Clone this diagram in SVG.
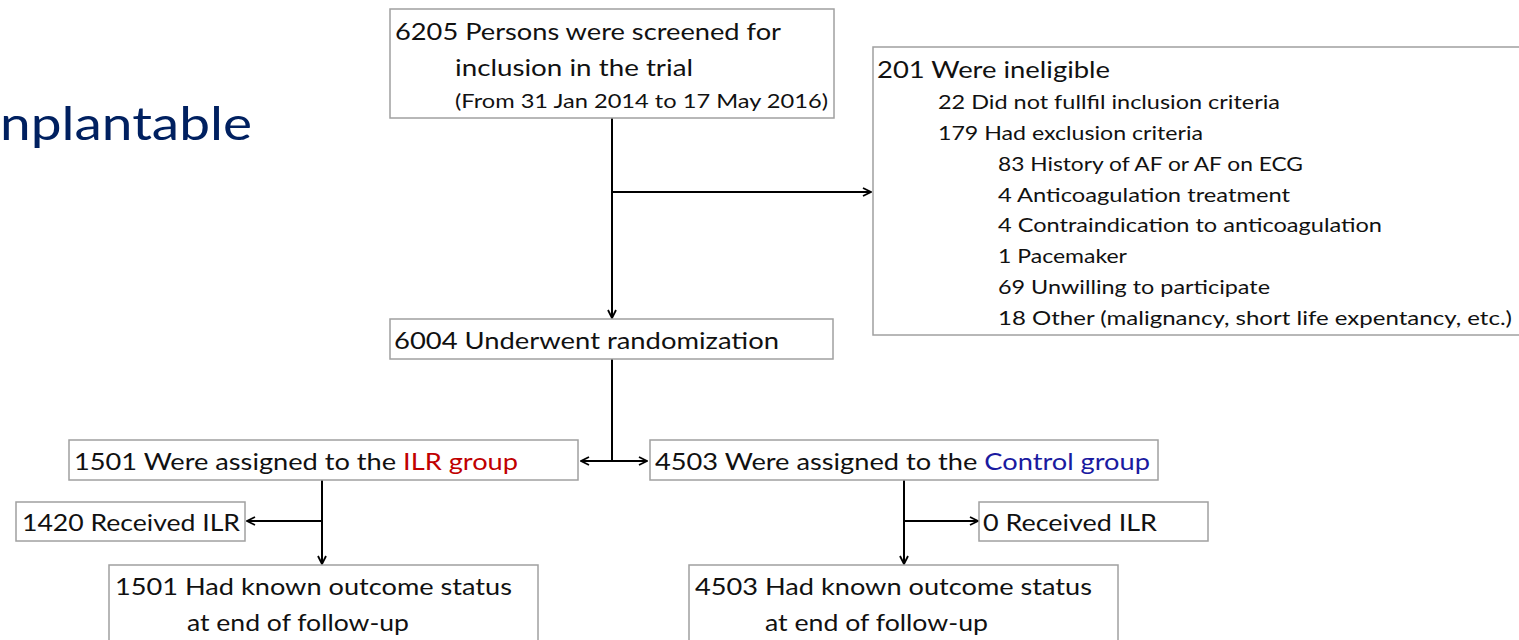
<svg xmlns="http://www.w3.org/2000/svg" width="1519" height="640" viewBox="0 0 1519 640">
<defs>
<style>
.box{fill:#ffffff;stroke:#a0a0a0;stroke-width:1.5}
.t{font-family:Lato,"Open Sans","Liberation Sans",sans-serif;fill:#111111}
.big{font-size:22.5px}
.sm{font-size:19px}
.con{fill:none;stroke:#000000;stroke-width:2}
.red{fill:#c00000}
.blue{fill:#1a1aa0}
</style>
<marker id="ah" viewBox="0 0 10 10" refX="9" refY="5" markerWidth="10" markerHeight="10" markerUnits="userSpaceOnUse" orient="auto-start-reverse">
<path d="M1,1 L9,5 L1,9" fill="none" stroke="#000" stroke-width="1.8"/>
</marker>
</defs>
<rect width="1519" height="640" fill="#ffffff"/>
<text x="0" y="140" font-family="Lato,'Open Sans',sans-serif" font-size="47" fill="#002060" textLength="252" lengthAdjust="spacingAndGlyphs">nplantable</text>

<g id="connectors">
<path class="con" d="M612,118 V318" marker-end="url(#ah)"/>
<path class="con" d="M612,192 H871" marker-end="url(#ah)"/>
<path class="con" d="M612,359 V461"/>
<path class="con" d="M581,461 H647" marker-start="url(#ah)" marker-end="url(#ah)"/>
<path class="con" d="M322,480 V564" marker-end="url(#ah)"/>
<path class="con" d="M322,521 H247" marker-end="url(#ah)"/>
<path class="con" d="M904,480 V564" marker-end="url(#ah)"/>
<path class="con" d="M904,521 H978" marker-end="url(#ah)"/>
</g>

<g id="screened">
<rect class="box" x="390" y="9" width="444" height="109"/>
<text class="t big" x="395" y="40" textLength="386" lengthAdjust="spacingAndGlyphs">6205 Persons were screened for</text>
<text class="t big" x="455" y="76" textLength="238" lengthAdjust="spacingAndGlyphs">inclusion in the trial</text>
<text class="t sm" x="455" y="108" textLength="373" lengthAdjust="spacingAndGlyphs">(From 31 Jan 2014 to 17 May 2016)</text>
</g>

<g id="ineligible">
<rect class="box" x="873" y="47" width="660" height="288"/>
<text class="t big" x="877" y="78" textLength="233" lengthAdjust="spacingAndGlyphs">201 Were ineligible</text>
<text class="t sm" x="938" y="109" textLength="342" lengthAdjust="spacingAndGlyphs">22 Did not fullfil inclusion criteria</text>
<text class="t sm" x="938" y="140" textLength="265" lengthAdjust="spacingAndGlyphs">179 Had exclusion criteria</text>
<text class="t sm" x="998" y="171" textLength="305" lengthAdjust="spacingAndGlyphs">83 History of AF or AF on ECG</text>
<text class="t sm" x="998" y="202" textLength="292" lengthAdjust="spacingAndGlyphs">4 Anticoagulation treatment</text>
<text class="t sm" x="998" y="232" textLength="384" lengthAdjust="spacingAndGlyphs">4 Contraindication to anticoagulation</text>
<text class="t sm" x="998" y="263" textLength="129" lengthAdjust="spacingAndGlyphs">1 Pacemaker</text>
<text class="t sm" x="998" y="294" textLength="272" lengthAdjust="spacingAndGlyphs">69 Unwilling to participate</text>
<text class="t sm" x="998" y="325" textLength="514" lengthAdjust="spacingAndGlyphs">18 Other (malignancy, short life expentancy, etc.)</text>
</g>

<g id="randomization">
<rect class="box" x="390" y="319" width="443" height="40"/>
<text class="t big" x="394" y="349" textLength="385" lengthAdjust="spacingAndGlyphs">6004 Underwent randomization</text>
</g>

<g id="ilr-group">
<rect class="box" x="69" y="440" width="509" height="40"/>
<text class="t big" x="74" y="470" textLength="444" lengthAdjust="spacingAndGlyphs">1501 Were assigned to the <tspan class="red">ILR group</tspan></text>
</g>

<g id="control-group">
<rect class="box" x="650" y="440" width="508" height="40"/>
<text class="t big" x="655" y="470" textLength="495" lengthAdjust="spacingAndGlyphs">4503 Were assigned to the <tspan class="blue">Control group</tspan></text>
</g>

<g id="ilr-received">
<rect class="box" x="16" y="502" width="229" height="39"/>
<text class="t big" x="22" y="531" textLength="218" lengthAdjust="spacingAndGlyphs">1420 Received ILR</text>
</g>

<g id="control-received">
<rect class="box" x="979" y="502" width="229" height="39"/>
<text class="t big" x="983" y="531" textLength="174" lengthAdjust="spacingAndGlyphs">0 Received ILR</text>
</g>

<g id="ilr-outcome">
<rect class="box" x="109" y="565" width="429" height="90"/>
<text class="t big" x="115" y="595" textLength="397" lengthAdjust="spacingAndGlyphs">1501 Had known outcome status</text>
<text class="t big" x="187" y="631" textLength="222" lengthAdjust="spacingAndGlyphs">at end of follow-up</text>
</g>

<g id="control-outcome">
<rect class="box" x="689" y="565" width="429" height="90"/>
<text class="t big" x="695" y="595" textLength="397" lengthAdjust="spacingAndGlyphs">4503 Had known outcome status</text>
<text class="t big" x="765" y="631" textLength="223" lengthAdjust="spacingAndGlyphs">at end of follow-up</text>
</g>
</svg>
